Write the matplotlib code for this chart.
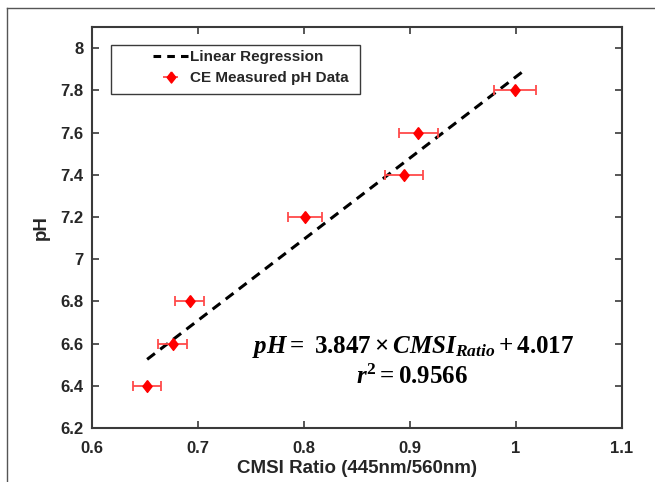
import numpy as np
import matplotlib

matplotlib.use("Agg")

import matplotlib.pyplot as plt  # noqa: E402
from matplotlib.lines import Line2D  # noqa: E402
from matplotlib.patches import Rectangle  # noqa: E402

cmsi_ratio = [0.652, 0.676, 0.692, 0.801, 0.894, 0.908, 0.999]
ph_values = [6.4, 6.6, 6.8, 7.2, 7.4, 7.6, 7.8]
ratio_err = [0.013, 0.0135, 0.0138, 0.016, 0.018, 0.018, 0.020]

# regression
slope = 3.847
intercept = 4.017
fit_range = [0.652, 1.010]
r_squared = 0.9566

x_ticks = [0.6, 0.7, 0.8, 0.9, 1.0, 1.1]
x_tick_labels = ["0.6", "0.7", "0.8", "0.9", "1", "1.1"]
y_ticks = [6.2, 6.4, 6.6, 6.8, 7.0, 7.2, 7.4, 7.6, 7.8, 8.0]
y_tick_labels = ["6.2", "6.4", "6.6", "6.8", "7", "7.2", "7.4", "7.6", "7.8", "8"]

plt.rcParams["font.family"] = ["Liberation Sans", "DejaVu Sans"]
plt.rcParams["mathtext.fontset"] = "custom"
plt.rcParams["mathtext.rm"] = "Liberation Serif:bold"
plt.rcParams["mathtext.it"] = "Liberation Serif:italic:bold"
plt.rcParams["mathtext.bf"] = "Liberation Serif:bold"

# MATLAB-like diamond, a bit taller than wide
diamond = [(0, 1), (0.78, 0), (0, -1), (-0.78, 0), (0, 1)]

fig = plt.figure(figsize=(6.55, 4.82), dpi=100)
fig.patch.set_facecolor("white")
ax = fig.add_axes([0.1405, 0.112, 0.809, 0.832])

axis_col = "#3a3a3a"
text_col = "#262626"

xf = np.linspace(fit_range[0], fit_range[1], 50)
ax.plot(xf, slope * xf + intercept, color="black", lw=2.2,
        dashes=(3.2, 2.2), zorder=2)

ax.errorbar(cmsi_ratio, ph_values, xerr=ratio_err, fmt="none",
            ecolor="#ff4a4a", elinewidth=1.3, capsize=3.5, capthick=1.3, zorder=3)
ax.plot(cmsi_ratio, ph_values, linestyle="none", marker=diamond, markersize=8.5,
        color="red", zorder=4)

# legend handles
fit_handle = Line2D([], [], color="black", lw=2.2, dashes=(2.5, 2.0))
eb_handle = ax.errorbar([], [], xerr=[], fmt="none", ecolor="#ff4a4a",
                        elinewidth=1.3, capsize=3, capthick=1.3)
data_handle = (eb_handle, Line2D([], [], linestyle="none", marker=diamond,
                                 markersize=8, color="red"))

ax.set_xlim(0.6, 1.1)
ax.set_ylim(6.2, 8.1)
ax.set_xticks(x_ticks)
ax.set_xticklabels(x_tick_labels)
ax.set_yticks(y_ticks)
ax.set_yticklabels(y_tick_labels)
ax.tick_params(direction="in", length=5, width=1.2, color=axis_col,
               top=True, right=True, labelsize=12)
ax.tick_params(axis="x", pad=9)
ax.tick_params(axis="y", pad=6)
for lab in ax.get_xticklabels() + ax.get_yticklabels():
    lab.set_fontweight("bold")
    lab.set_color(text_col)
for sp in ax.spines.values():
    sp.set_linewidth(1.5)
    sp.set_color(axis_col)

ax.set_xlabel("CMSI Ratio (445nm/560nm)", fontsize=13.5, fontweight="bold",
              color=text_col, labelpad=3)
ax.set_ylabel("pH", fontsize=13.5, fontweight="bold", color=text_col, labelpad=8)

# legend box is wider than its content, as in the MATLAB original
ax.add_patch(Rectangle((0.0358, 0.833), 0.47, 0.122, transform=ax.transAxes,
                       facecolor="white", edgecolor=axis_col, lw=1.0, zorder=5))
leg = ax.legend([fit_handle, data_handle], ["Linear Regression", "CE Measured pH Data"],
                loc="upper left", bbox_to_anchor=(0.105, 0.955),
                borderaxespad=0, frameon=False, prop={"weight": "bold", "size": 11},
                handlelength=2.3, handletextpad=0.15, borderpad=0.35,
                labelspacing=0.45)
leg.set_zorder(6)
for t in leg.get_texts():
    t.set_color(text_col)

ax.text(0.606, 0.202, r"$pH =\ 3.847 \times CMSI_{Ratio} + 4.017$",
        transform=ax.transAxes, ha="center", va="center", fontsize=18)
ax.text(0.604, 0.127, r"$r^2 = %.4f$" % r_squared,
        transform=ax.transAxes, ha="center", va="center", fontsize=18)

# outer frame of the source image
fig.add_artist(Line2D([7 / 655, 7 / 655], [0, 1 - 8 / 482], color="#555555", lw=1.0))
fig.add_artist(Line2D([7 / 655, 1], [1 - 8 / 482, 1 - 8 / 482], color="#555555", lw=1.0))

fig.savefig("out.png", dpi=100, facecolor="white")
plt.close(fig)
